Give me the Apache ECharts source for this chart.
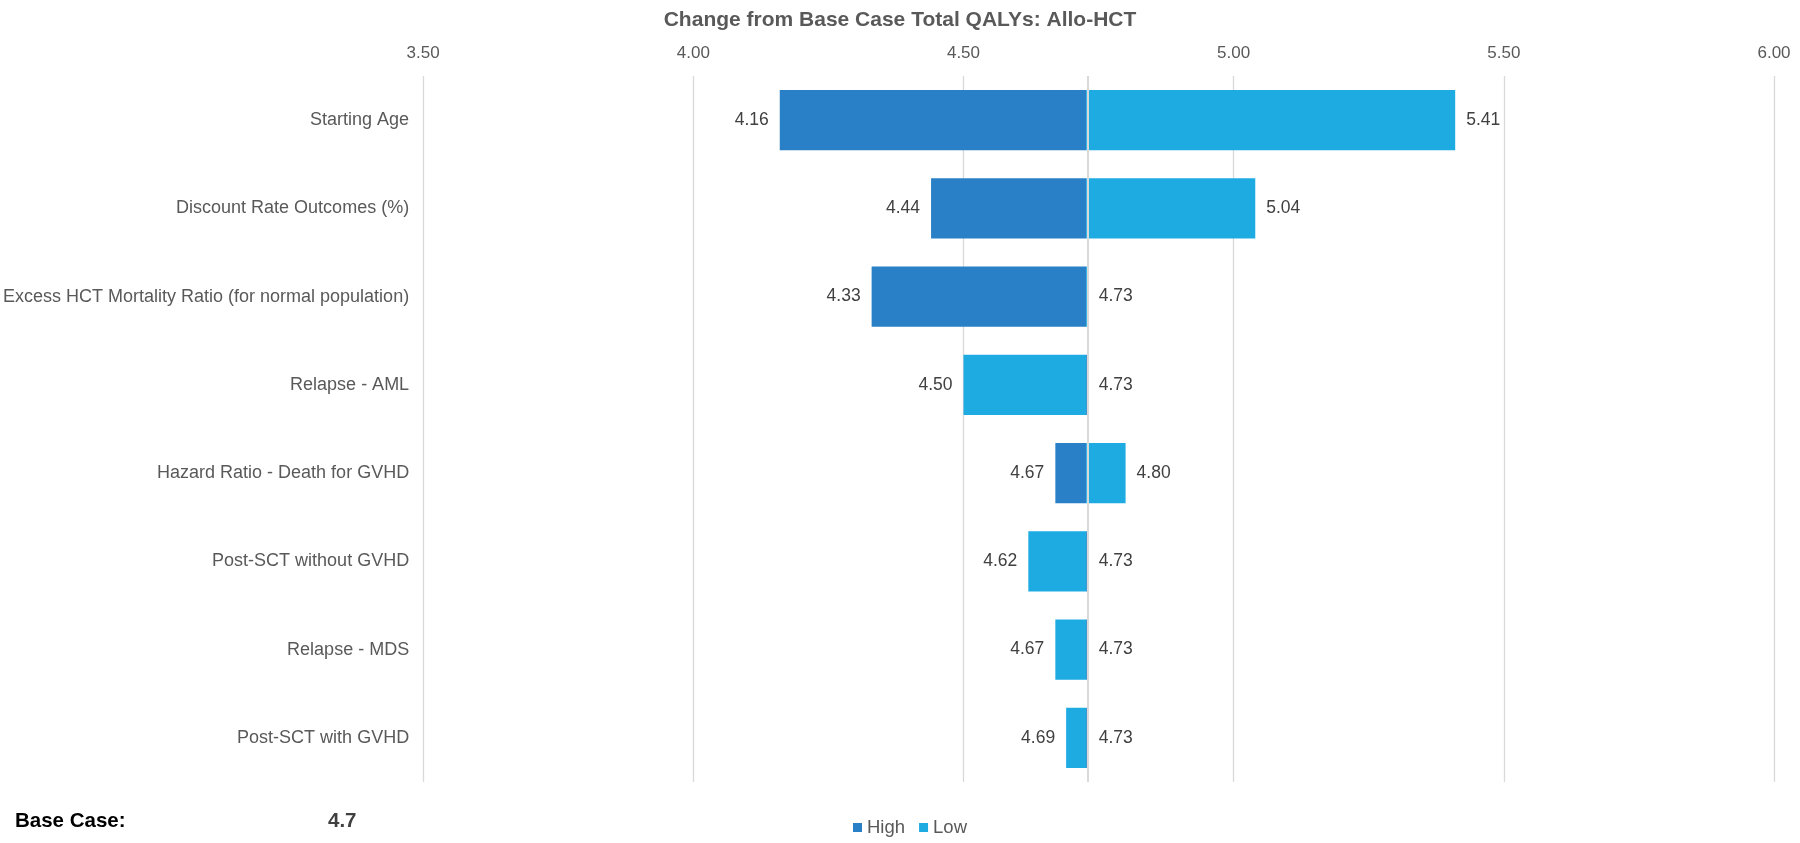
<!DOCTYPE html>
<html>
<head>
<meta charset="utf-8">
<script src="https://cdn.jsdelivr.net/npm/echarts@6/dist/echarts.min.js"></script>
<style>html,body{margin:0;padding:0;background:#fff}#c{width:1800px;height:843px}</style>
</head>
<body>
<div id="c"></div>
<script>
const titleText = 'Change from Base Case Total QALYs: Allo-HCT';
const categories = [
  'Starting Age',
  'Discount Rate Outcomes (%)',
  'Excess HCT Mortality Ratio (for normal population)',
  'Relapse - AML',
  'Hazard Ratio - Death for GVHD',
  'Post-SCT without GVHD',
  'Relapse - MDS',
  'Post-SCT with GVHD'
];
const highValues = [4.16, 4.44, 4.33, 4.73, 4.67, 4.73, 4.73, 4.73];
const lowValues  = [5.41, 5.04, 4.73, 4.50, 4.80, 4.62, 4.67, 4.69];
const baseValue = 4.727;
const baseLabel = '4.7';
const axisMin = 3.5, axisMax = 6.0, axisStep = 0.5;

const FONT = '"Liberation Sans", Arial, sans-serif';
const DARK = '#2980C6', LIGHT = '#1DABE2';

function offsets(vals) { return vals.map(v => Math.min(v, baseValue)); }
function spans(vals) {
  return vals.map(v => ({
    value: Math.abs(v - baseValue),
    raw: v,
    label: { position: v < baseValue ? 'left' : 'right' }
  }));
}
const dataLabel = {
  show: true, distance: 11, color: '#404040', fontSize: 17.5, fontFamily: FONT,
  formatter: p => p.data.raw.toFixed(2)
};

const chart = echarts.init(document.getElementById('c'), null, { renderer: 'canvas' });
chart.setOption({
  animation: false,
  backgroundColor: '#fff',
  title: {
    text: titleText, left: 'center', top: 5,
    textStyle: { fontFamily: FONT, fontSize: 21, fontWeight: 'bold', color: '#595959' }
  },
  legend: {
    data: ['High', 'Low'], left: 848, top: 813, icon: 'rect', itemWidth: 9, itemHeight: 9, itemGap: 14,
    textStyle: { fontFamily: FONT, fontSize: 18.5, color: '#595959', padding: [0, 0, 0, 0] }
  },
  grid: { left: 421, right: 26, top: 76, bottom: 61, containLabel: false },
  xAxis: {
    type: 'value', position: 'top', min: axisMin, max: axisMax, interval: axisStep,
    axisLine: { show: false }, axisTick: { show: false },
    axisLabel: { fontFamily: FONT, fontSize: 17, color: '#595959', margin: 14, formatter: v => v.toFixed(2) },
    splitLine: { lineStyle: { color: '#d9d9d9', width: 1.3 } }
  },
  yAxis: {
    type: 'category', data: categories, inverse: true,
    axisLine: { show: false }, axisTick: { show: false },
    axisLabel: { fontFamily: FONT, fontSize: 18, color: '#595959', margin: 14 }
  },
  series: [
    { name: 'hOff', type: 'bar', stack: 'h', data: offsets(highValues), itemStyle: { color: 'transparent' },
      barCategoryGap: '32%', barGap: '-100%', silent: true },
    { name: 'High', type: 'bar', stack: 'h', data: spans(highValues), itemStyle: { color: DARK },
      label: dataLabel, barCategoryGap: '32%', barGap: '-100%' },
    { name: 'lOff', type: 'bar', stack: 'l', data: offsets(lowValues), itemStyle: { color: 'transparent' },
      barCategoryGap: '32%', barGap: '-100%', silent: true },
    { name: 'Low', type: 'bar', stack: 'l', data: spans(lowValues), itemStyle: { color: LIGHT },
      label: dataLabel, barCategoryGap: '32%', barGap: '-100%',
      markLine: {
        silent: true, symbol: 'none', label: { show: false },
        lineStyle: { color: '#d9d9d9', width: 2, type: 'solid' },
        data: [{ xAxis: baseValue }]
      }
    }
  ],
  graphic: [
    { type: 'text', x: 15, y: 821, style: { text: 'Base Case:', font: 'bold 20.5px ' + FONT, fill: '#000', verticalAlign: 'middle' } },
    { type: 'text', x: 328, y: 821, style: { text: baseLabel, font: 'bold 20.5px ' + FONT, fill: '#404040', verticalAlign: 'middle' } }
  ]
});
</script>
</body>
</html>
